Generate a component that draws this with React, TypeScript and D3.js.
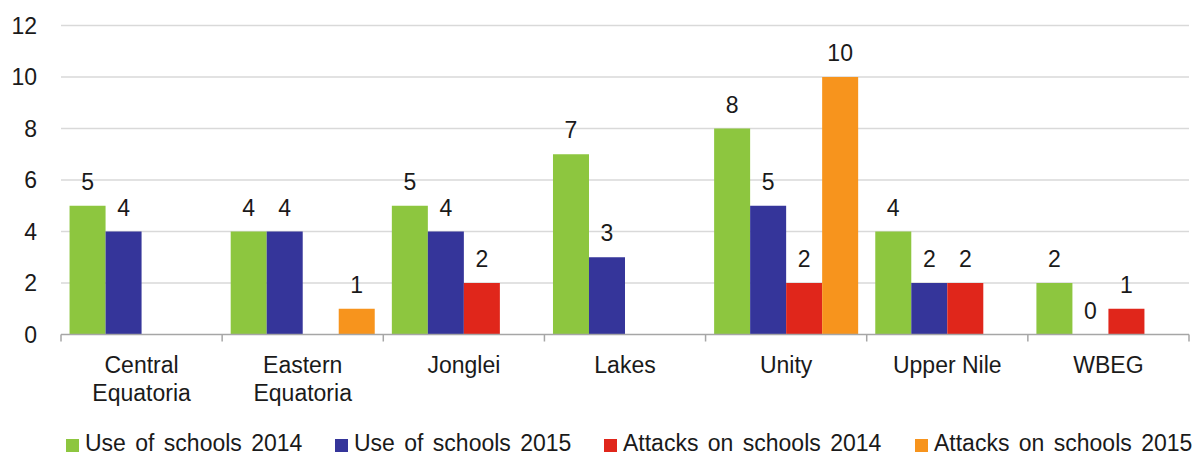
import React from "react";
import * as d3 from "d3";

const categories = [
  ["Central", "Equatoria"],
  ["Eastern", "Equatoria"],
  ["Jonglei"],
  ["Lakes"],
  ["Unity"],
  ["Upper Nile"],
  ["WBEG"],
];
const seriesNames = [
  "Use of schools 2014",
  "Use of schools 2015",
  "Attacks on schools 2014",
  "Attacks on schools 2015",
];
const seriesColors = ["#8dc63f", "#35359a", "#e0261b", "#f7941d"];
// null = no bar and no label
const useOfSchools2014 = [5, 4, 5, 7, 8, 4, 2];
const useOfSchools2015 = [4, 4, 4, 3, 5, 2, 0];
const attacksOnSchools2014 = [null, null, 2, null, 2, 2, 1];
const attacksOnSchools2015 = [null, 1, null, null, 10, null, null];
const yTicks = [0, 2, 4, 6, 8, 10, 12];
const legendX = [66, 335, 604, 915];

const W = 1197;
const H = 456;
const FONT = "'Liberation Sans', Arial, sans-serif";
const TEXT = "#1a1a1a";
const FS = 23;

export default function App() {
  const series = [useOfSchools2014, useOfSchools2015, attacksOnSchools2014, attacksOnSchools2015];
  const left = 61;
  const right = 1189;
  const x0 = d3.scaleBand<number>().domain(d3.range(categories.length)).range([left, right]).paddingInner(0).paddingOuter(0);
  const x1 = d3.scaleBand<number>().domain(d3.range(series.length)).range([0, x0.bandwidth()]).paddingOuter(0.2375).paddingInner(0);
  const y = d3.scaleLinear().domain([0, 12]).range([334.5, 25.5]);

  return (
    <svg width={W} height={H} style={{ position: "absolute", left: 0, top: 0 }} fontFamily={FONT}>
      <rect width={W} height={H} fill="#fff" />
      {yTicks.map((t) => (
        <g key={t}>
          {t > 0 && <line x1={left} x2={right} y1={y(t)} y2={y(t)} stroke="#d9d9d9" strokeWidth={1.5} />}
          <text x={37} y={y(t)} dy="0.36em" textAnchor="end" fontSize={FS} fill={TEXT}>
            {t}
          </text>
        </g>
      ))}
      {series.map((vals, si) =>
        vals.map((v, ci) =>
          v === null ? null : (
            <g key={`${si}-${ci}`}>
              {v > 0 && (
                <rect
                  x={x0(ci)! + x1(si)!}
                  y={y(v)}
                  width={x1.bandwidth()}
                  height={y(0) - y(v)}
                  fill={seriesColors[si]}
                />
              )}
              <text
                x={x0(ci)! + x1(si)! + x1.bandwidth() / 2}
                y={y(v) - 16}
                textAnchor="middle"
                fontSize={FS}
                fill={TEXT}
              >
                {v}
              </text>
            </g>
          )
        )
      )}
      <line x1={left} x2={right} y1={y(0)} y2={y(0)} stroke="#a6a6a6" strokeWidth={1.5} />
      {d3.range(categories.length + 1).map((i) => {
        const xx = i < categories.length ? x0(i)! : right;
        return <line key={i} x1={xx} x2={xx} y1={y(0)} y2={y(0) + 7} stroke="#a6a6a6" strokeWidth={1.5} />;
      })}
      {categories.map((lines, ci) => (
        <text key={ci} x={x0(ci)! + x0.bandwidth() / 2} textAnchor="middle" fontSize={FS} fill={TEXT}>
          {lines.map((l, li) => (
            <tspan key={li} x={x0(ci)! + x0.bandwidth() / 2} y={373 + li * 28}>
              {l}
            </tspan>
          ))}
        </text>
      ))}
      {seriesNames.map((n, si) => (
        <g key={n} transform={`translate(${legendX[si]},0)`}>
          <rect x={0} y={439} width={13} height={13} fill={seriesColors[si]} />
          <text x={19} y={451} fontSize={FS} wordSpacing={3} fill={TEXT}>
            {n}
          </text>
        </g>
      ))}
    </svg>
  );
}
